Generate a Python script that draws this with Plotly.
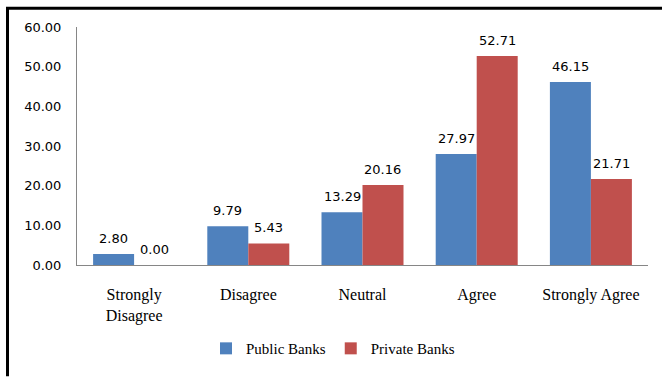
import plotly.graph_objects as go

categories = ["Strongly<br>Disagree", "Disagree", "Neutral", "Agree", "Strongly Agree"]
public_banks = [2.80, 9.79, 13.29, 27.97, 46.15]
private_banks = [0.00, 5.43, 20.16, 52.71, 21.71]
y_ticks = [0, 10, 20, 30, 40, 50, 60]

BLUE = "#4F81BD"
RED = "#C0504D"
AXIS = "#868686"
SANS = "DejaVu Sans"
SERIF = "Liberation Serif"

W, H = 662, 377
M = dict(l=77, r=14, t=27, b=108)
BARGAP = 0.282

plot_w = W - M["l"] - M["r"]
plot_h = H - M["t"] - M["b"]
group_w = plot_w / len(categories)
bar_w = group_w * (1 - BARGAP) / 2

fig = go.Figure()
fig.add_trace(go.Bar(name="Public Banks", x=categories, y=public_banks,
                     marker=dict(color=BLUE, line=dict(width=0))))
fig.add_trace(go.Bar(name="Private Banks", x=categories, y=private_banks,
                     marker=dict(color=RED, line=dict(width=0))))

# value labels above each bar
annotations = []
for series, sign in ((public_banks, -1), (private_banks, 1)):
    for cat, val in zip(categories, series):
        annotations.append(dict(
            x=cat, y=val, xref="x", yref="y", text=f"{val:.2f}",
            showarrow=False, xshift=sign * bar_w / 2, yshift=6,
            yanchor="bottom", font=dict(family=SANS, size=13, color="#000000"),
        ))

# frame lines on the left and top edges
px_x = lambda p: (p - M["l"]) / plot_w
px_y = lambda p: (H - M["b"] - p) / plot_h
shapes = [
    dict(type="line", xref="paper", yref="paper", x0=px_x(7.5), x1=px_x(7.5),
         y0=px_y(7), y1=px_y(H + 5), line=dict(color="#000000", width=3)),
    dict(type="line", xref="paper", yref="paper", x0=px_x(6), x1=px_x(W + 5),
         y0=px_y(8), y1=px_y(8), line=dict(color="#000000", width=3)),
]

fig.update_layout(
    width=W, height=H, margin=M,
    paper_bgcolor="#FFFFFF", plot_bgcolor="#FFFFFF",
    barmode="group", bargap=BARGAP, bargroupgap=0,
    showlegend=True,
    legend=dict(orientation="h", x=px_x(333), xanchor="center", y=px_y(354),
                yanchor="middle", font=dict(family=SERIF, size=15, color="#000000"),
                itemwidth=30, traceorder="normal"),
    annotations=annotations, shapes=shapes,
    xaxis=dict(showline=True, linecolor=AXIS, linewidth=1, showgrid=False,
               ticks="", tickfont=dict(family=SERIF, size=16, color="#000000"),
               ticklabelstandoff=15, fixedrange=True),
    yaxis=dict(range=[0, 60], tickvals=y_ticks, tickformat=".2f",
               showline=True, linecolor=AXIS, linewidth=1, showgrid=False,
               zeroline=False, ticks="",
               tickfont=dict(family=SANS, size=13, color="#000000"),
               ticklabelstandoff=12, fixedrange=True),
)

fig.write_html("out.html")
